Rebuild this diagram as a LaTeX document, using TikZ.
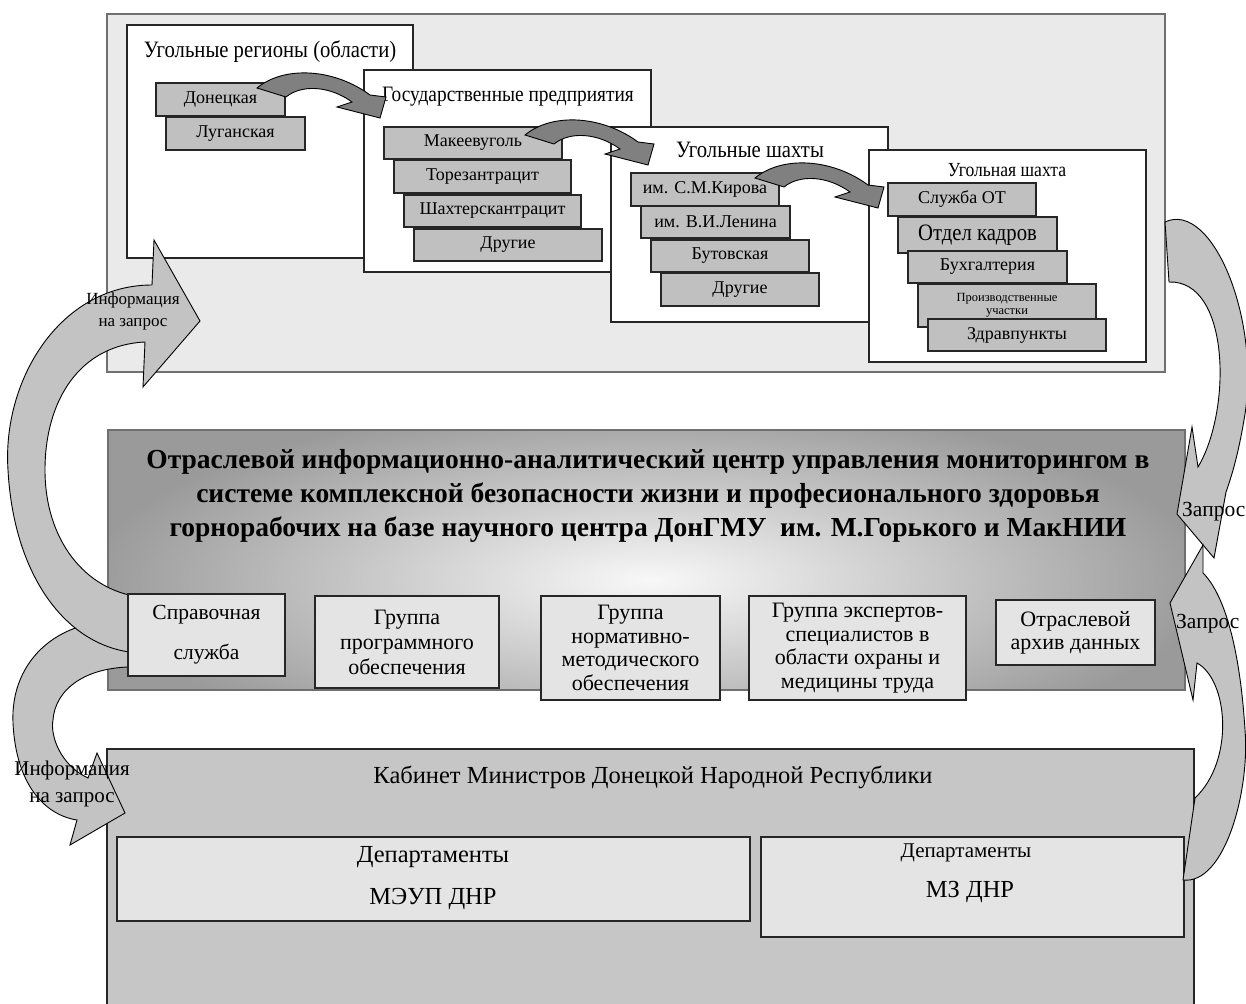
\documentclass[tikz,border=0pt]{standalone}
\usepackage{fontspec}
\setmainfont{Liberation Serif}
\newfontfamily\narrowserif{Liberation Serif}[FakeStretch=0.88]
\definecolor{topbg}{HTML}{EAEAEA}
\definecolor{stepgray}{HTML}{C0C0C0}
\definecolor{lightbox}{HTML}{E4E4E4}
\definecolor{botbg}{HTML}{C6C6C6}
\definecolor{bigarrow}{HTML}{C3C3C3}
\definecolor{darkarrow}{HTML}{808080}
\definecolor{framegray}{HTML}{707070}
\definecolor{bandouter}{HTML}{9A9A9A}
\definecolor{bandinner}{HTML}{F8F8F8}
\newcommand\fsz[2]{\fontsize{#1}{#2}\selectfont}
% \rb[style]{name}{x1}{y1}{x2}{y2}{text}
\newcommand\rb[7][]{%
 \pgfmathsetmacro\rbw{#5-#3}\pgfmathsetmacro\rbh{#6-#4}%
 \node[inner sep=0pt, minimum width=\rbw pt, minimum height=\rbh pt, #1] (#2) at ({(#3+#5)/2},{(#4+#6)/2}) {#7};}
\newcommand\darrow[1]{\path[darkarr, shift={(#1)}] (257,88) .. controls (285,65) and (335,69) .. (370,95) -- (386,97) -- (380,118) -- (337,107) -- (352,102) .. controls (330,86) and (302,84) .. (286,97) -- cycle;}
\tikzset{
 outerframe/.style={draw=framegray, line width=1.2pt, fill=topbg},
 whitebox/.style={draw=black!85, line width=1.2pt, fill=white},
 stepbox/.style={draw=black!85, line width=1.6pt, fill=stepgray, font=\fsz{18}{20}},
 midbox/.style={draw=black!85, line width=1.4pt, fill=lightbox, align=center},
 botbox/.style={draw=black!85, line width=1.4pt, fill=botbg},
 depbox/.style={draw=black!85, line width=1.4pt, fill=lightbox},
 ttl/.style={inner sep=0pt, font=\fsz{21}{24}},
 topttl/.style={inner sep=0pt, font=\narrowserif\fsz{23.5}{26}},
 bigarr/.style={draw=black, line width=0.9pt, fill=bigarrow},
 darkarr/.style={draw=black, line width=0.9pt, fill=darkarrow},
 lbl/.style={inner sep=0pt, align=center},
}
\begin{document}
\begin{tikzpicture}[x=1pt,y=-1pt]
\clip (0,0) rectangle (1246,1003);
\fill[white] (0,0) rectangle (1246,1003);
% ---------- top section ----------
\rb[outerframe]{top}{107}{14}{1165}{372}{}
\rb[whitebox]{boxA}{127}{25}{413}{258}{}
\node[topttl] (boxAt) at (270,52) {Угольные регионы (области)};
\rb[stepbox]{don}{156}{83}{285}{116}{Донецкая}
\rb[stepbox]{lug}{166}{117}{305}{150}{Луганская}
\rb[whitebox]{boxB}{364}{70}{651}{272}{}
\node[topttl, font=\narrowserif\fsz{22}{26}] (boxBt) at (508,97) {Государственные предприятия};
\rb[stepbox]{mak}{384}{127}{562}{159}{Макеевуголь}
\rb[stepbox]{tor}{394}{160}{571}{193}{Торезантрацит}
\rb[stepbox]{sha}{404}{195}{581}{227}{Шахтерскантрацит}
\rb[stepbox]{drB}{414}{229}{602}{261}{Другие}
\rb[whitebox]{boxC}{611}{127}{888}{322}{}
\node[topttl] (boxCt) at (750,150) {Угольные шахты};
\rb[stepbox]{kir}{631}{173}{779}{206}{им. С.М.Кирова}
\rb[stepbox]{len}{641}{206}{790}{238}{им. В.И.Ленина}
\rb[stepbox]{but}{651}{240}{809}{272}{Бутовская}
\rb[stepbox]{drC}{661}{273}{819}{306}{Другие}
\rb[whitebox]{boxD}{869}{150}{1146}{362}{}
\node[topttl, font=\narrowserif\fsz{20}{22}] (boxDt) at (1007,170) {Угольная шахта};
\rb[stepbox]{ot}{888}{183}{1036}{216}{Служба ОТ}
\rb[stepbox, font=\narrowserif\fsz{23.5}{26}]{kad}{898}{217}{1057}{253}{Отдел кадров}
\rb[stepbox]{buh}{908}{251}{1067}{283}{Бухгалтерия}
\rb[stepbox, font=\fsz{12.5}{13}, align=center]{uch}{918}{284}{1096}{327}{Производственные\\участки}
\rb[stepbox]{zdr}{928}{319}{1106}{351}{Здравпункты}
\darrow{0,0}
\darrow{268,47}
\darrow{498,90}
% ---------- middle band ----------
\begin{scope}
 \clip (108,430) rectangle (1185,690);
 \shade[inner color=bandinner, outer color=bandouter] (90,400) rectangle (1210,760);
\end{scope}
\rb[draw=framegray, line width=1.2pt]{band}{108}{430}{1185}{690}{}
\node[font=\bfseries\fsz{27.5}{34}, align=center, inner sep=0pt] (bandt) at (648,496)
 {Отраслевой информационно-аналитический центр управления мониторингом в\\системе комплексной безопасности жизни и професионального здоровья\\горнорабочих на базе научного центра ДонГМУ\ \ им. М.Горького и МакНИИ};
% ---------- bottom section ----------
\rb[botbox]{cab}{107}{749}{1194}{1012}{}
\node[ttl, font=\fsz{24.5}{28}] (cabt) at (653,777) {Кабинет Министров Донецкой Народной Республики};
\rb[depbox]{meup}{117}{837}{750}{921}{}
\node[ttl, font=\fsz{24.5}{28}] (meup1) at (433,857) {Департаменты};
\node[ttl, font=\fsz{24.5}{28}] (meup2) at (433,899) {МЭУП ДНР};
\rb[depbox]{mz}{761}{837}{1184}{937}{}
\node[ttl, font=\fsz{21}{24}] (mz1) at (966,853) {Департаменты};
\node[ttl, font=\fsz{24.5}{28}] (mz2) at (970,892) {МЗ ДНР};
% ---------- big curved arrows ----------
\path[bigarr] (140,622) .. controls (60,612) and (10,660) .. (13,723) .. controls (16,785) and (45,815) .. (77,820) -- (70,845) -- (125,813) -- (97,753) -- (88,778) .. controls (60,765) and (50,735) .. (53,720) .. controls (55,690) and (85,665) .. (140,667) -- cycle;
\path[bigarr] (200,321) -- (154,240) -- (152,285) .. controls (60,285) and (2,380) .. (8,470) .. controls (14,580) and (70,650) .. (140,653) -- (140,597) .. controls (85,590) and (45,540) .. (45,470) .. controls (45,400) and (80,345) .. (145,342) -- (143,387) -- cycle;
\path[bigarr] (1165,222) .. controls (1212,200) and (1262,320) .. (1244,420) .. controls (1238,455) and (1232,475) .. (1226,492) -- (1214,558) -- (1177,514) -- (1192,427) -- (1198,467) .. controls (1232,410) and (1230,280) .. (1169,282) -- cycle;
\path[bigarr] (1203,545) -- (1170,603) -- (1193,700) -- (1197,663) .. controls (1228,680) and (1235,760) .. (1195,798) -- (1183,880) .. controls (1225,885) and (1250,790) .. (1245,730) .. controls (1240,650) and (1225,595) .. (1203,573) -- cycle;
% ---------- middle boxes ----------
\rb[midbox, font=\fsz{21.5}{40}]{sprav}{128}{594}{285}{676}{Справочная\\служба}
\rb[midbox, font=\fsz{22}{25}]{prog}{315}{596}{499}{688}{Группа\\программного\\обеспечения}
\rb[midbox, font=\fsz{22}{23.5}]{norm}{541}{596}{720}{700}{Группа\\нормативно-\\методического\\обеспечения}
\rb[midbox, font=\fsz{22}{23.5}]{expt}{749}{596}{966}{700}{Группа экспертов-\\специалистов в\\области охраны и\\медицины труда}
\rb[midbox, font=\fsz{22}{23}]{arch}{996}{600}{1155}{665}{Отраслевой\\архив данных}
% ---------- arrow labels ----------
\node[lbl, font=\fsz{17}{22}] (infoUp) at (133,311) {Информация\\на запрос};
\node[lbl, font=\fsz{21}{27}] (infoLo) at (72,784) {Информация\\на запрос};
\node[lbl, font=\fsz{21.5}{24}, anchor=west] (zap1) at (1182,512) {Запрос};
\node[lbl, font=\fsz{21.5}{24}, anchor=west] (zap2) at (1176,624) {Запрос};
\end{tikzpicture}
\end{document}
